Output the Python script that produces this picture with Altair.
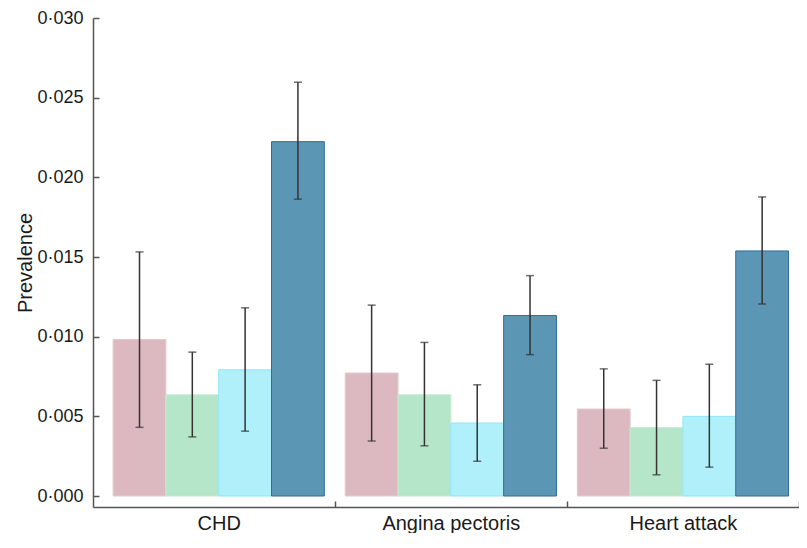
import altair as alt
import pandas as pd

categories = ["CHD", "Angina pectoris", "Heart attack"]
series = ["Group 1", "Group 2", "Group 3", "Group 4"]

prev_g1 = [0.00982, 0.00772, 0.00546]
prev_g2 = [0.00635, 0.00635, 0.00429]
prev_g3 = [0.00792, 0.00458, 0.00500]
prev_g4 = [0.02224, 0.01133, 0.01538]

low_g1 = [0.00431, 0.00345, 0.00300]
low_g2 = [0.00371, 0.00315, 0.00133]
low_g3 = [0.00407, 0.00218, 0.00181]
low_g4 = [0.01863, 0.00887, 0.01205]

up_g1 = [0.01532, 0.01198, 0.00798]
up_g2 = [0.00903, 0.00964, 0.00726]
up_g3 = [0.01181, 0.00698, 0.00827]
up_g4 = [0.02597, 0.01383, 0.01877]

y_ticks = [0.0, 0.005, 0.010, 0.015, 0.020, 0.025, 0.030]

fill_colors = ["#dcb9c1", "#b6e6c9", "#aff0fb", "#5c96b5"]
stroke_colors = ["#e3c9cf", "#c2ebd2", "#8fe6f7", "#2f6d9c"]

prev = [prev_g1, prev_g2, prev_g3, prev_g4]
low = [low_g1, low_g2, low_g3, low_g4]
up = [up_g1, up_g2, up_g3, up_g4]

rows = []
for si, s in enumerate(series):
    for ci, c in enumerate(categories):
        rows.append({"category": c, "series": s, "prevalence": prev[si][ci],
                     "low": low[si][ci], "up": up[si][ci]})
df = pd.DataFrame(rows)

FONT = "Liberation Sans"
AX = "#555555"
W, H = 706, 489
HALF_STEP = W / (3 + 2 * 0.0208) / 2

x_enc = alt.X("category:N", sort=categories,
              scale=alt.Scale(paddingInner=0, paddingOuter=0.0208, align=1),
              axis=alt.Axis(title=None, ticks=False, labelAngle=0,
                            tickOffset=HALF_STEP, labelOffset=-HALF_STEP,
                            labelPadding=6, labelFont=FONT, labelFontSize=20, labelColor="#1a1a1a",
                            domainColor=AX, domainWidth=1.5,
                            grid=True, gridDash=[6, 10000], gridDashOffset=10006 - (H - 6),
                            gridColor=AX, gridWidth=1.5))
xo_enc = alt.XOffset("series:N", sort=series,
                     scale=alt.Scale(paddingInner=0, paddingOuter=0.198))
y_scale = alt.Scale(domain=[-0.000690, 0.030], nice=False, zero=False)

base = alt.Chart(df).encode(x=x_enc, xOffset=xo_enc)

bars = base.mark_bar(strokeWidth=1).encode(
    y=alt.Y("prevalence:Q", scale=y_scale,
            axis=alt.Axis(values=y_ticks, title="Prevalence",
                          labelExpr="replace(format(datum.value, '.3f'), '.', '·')",
                          ticks=False, labelPadding=10, titlePadding=1,
                          labelFont=FONT, labelFontSize=18, labelColor="#1a1a1a",
                          titleFont=FONT, titleFontSize=20, titleFontWeight="normal", titleColor="#1a1a1a",
                          domainColor=AX, domainWidth=1.5,
                          grid=True, gridDash=[6, 10000], gridColor=AX, gridWidth=1.5)),
    y2=alt.datum(0),
    color=alt.Color("series:N", sort=series,
                    scale=alt.Scale(domain=series, range=fill_colors), legend=None),
    stroke=alt.Stroke("series:N", sort=series,
                      scale=alt.Scale(domain=series, range=stroke_colors), legend=None),
)

rules = base.mark_rule(color="#333333", strokeWidth=1.5).encode(
    y=alt.Y("low:Q", scale=y_scale), y2="up:Q")
caps_low = base.mark_tick(color="#333333", size=8, thickness=1.5).encode(
    y=alt.Y("low:Q", scale=y_scale))
caps_up = base.mark_tick(color="#333333", size=8, thickness=1.5).encode(
    y=alt.Y("up:Q", scale=y_scale))

chart = alt.layer(bars, rules, caps_low, caps_up).properties(
    width=W, height=H,
    autosize=alt.AutoSizeParams(type="none"),
    padding={"left": 85, "top": 10, "right": 0, "bottom": 26},
    background="white",
).configure_view(stroke=None)

chart.save("out.html", embed_options={"renderer": "svg", "actions": False})
